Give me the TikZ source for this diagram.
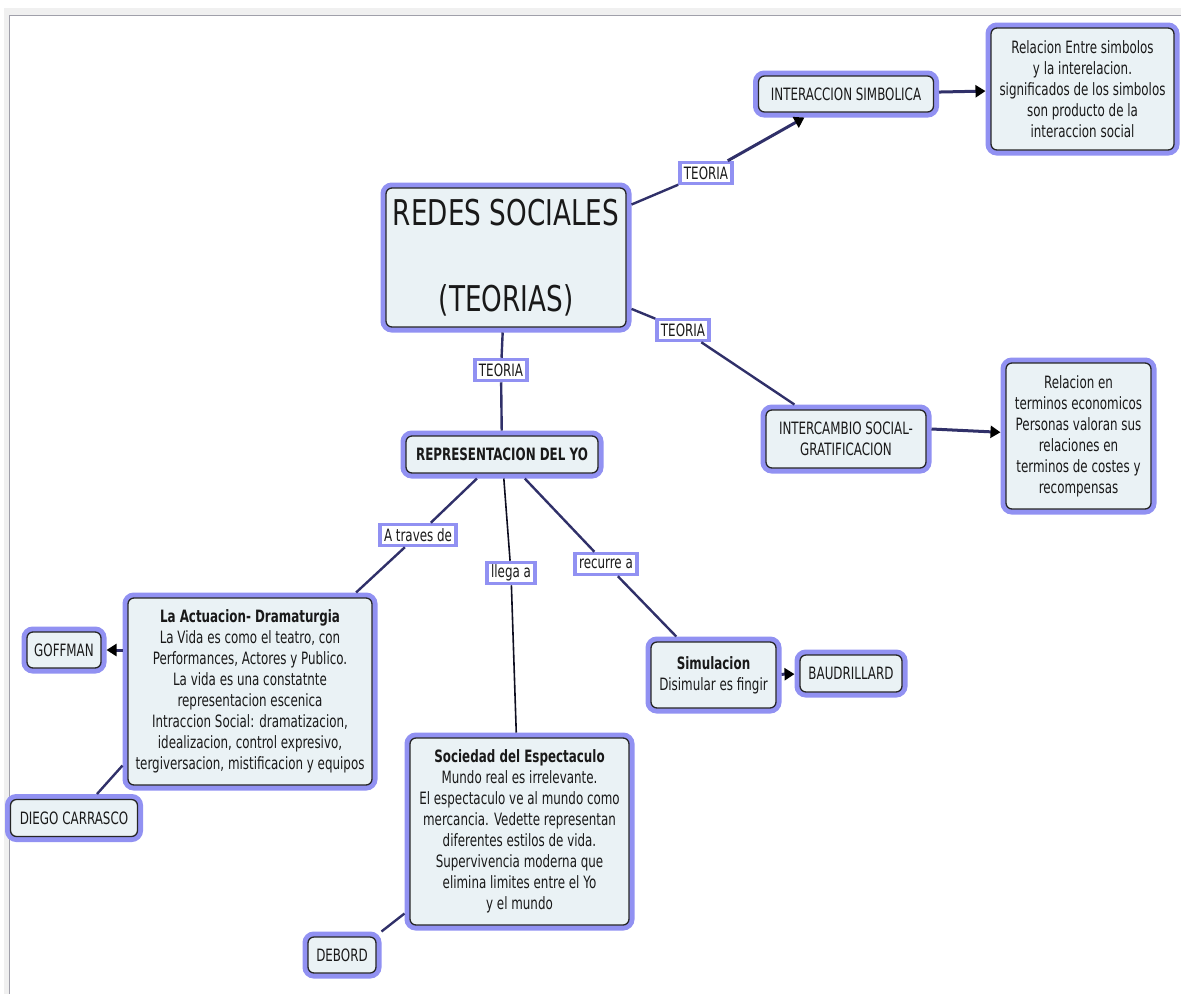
\documentclass[tikz,border=0pt]{standalone}
\usepackage{fontspec}
\setmainfont{DejaVu Sans}[FakeStretch=0.70]
\newfontfamily\titlefont{DejaVu Sans}[FakeStretch=0.74]
\usepackage{tikz}
\usetikzlibrary{arrows.meta}
\definecolor{halo}{RGB}{145,145,242}
\definecolor{boxfill}{RGB}{234,242,245}
\definecolor{linkcol}{RGB}{48,48,105}
\definecolor{framegray}{RGB}{240,240,240}
\definecolor{frameline}{RGB}{160,160,170}

\begin{document}
\begin{tikzpicture}[x=1pt,y=-1pt,
    concept/.style={rectangle,rounded corners=6pt,draw=black!85,line width=1.3pt,fill=boxfill,
      preaction={draw=halo,line width=11pt},inner sep=0pt,outer sep=5.5pt,align=center,
      font=\fontsize{17}{21}\selectfont,text=black!90},
    linkname/.style={rectangle,draw=halo,line width=3.5pt,fill=white,inner xsep=4pt,inner ysep=0pt,
      minimum height=21pt,font=\fontsize{17}{21}\selectfont,text=black!90},
    link/.style={draw=linkcol,line width=2.4pt},
    arr/.style={link,line width=3pt,-{Triangle[length=10pt,width=12pt,color=black]}}]
    \useasboundingbox (0,0) rectangle (1181,994);
    %
    \fill[framegray] (4,8) rectangle (1181,15);
    \fill[framegray] (4,8) rectangle (9,994);
    \draw[frameline,line width=1.5pt] (9.5,994) -- (9.5,15.5) -- (1181,15.5);
    %
    \node[concept,minimum width=240pt,minimum height=139pt,font=\titlefont\fontsize{35.5}{42.75}\selectfont] (redes) at (506,257.5) {REDES SOCIALES\\[42.75pt](TEORIAS)};
    \node[concept,minimum width=175pt,minimum height=36pt] (intsim) at (846,94) {INTERACCION SIMBOLICA};
    \node[concept,minimum width=183pt,minimum height=122pt] (relsim) at (1082.5,89) {Relacion Entre simbolos\\y la interelacion.\\significados de los simbolos\\son producto de la\\interaccion social};
    \node[concept,minimum width=160pt,minimum height=58pt] (intercambio) at (846,439) {INTERCAMBIO SOCIAL-\\GRATIFICACION};
    \node[concept,minimum width=145pt,minimum height=146pt] (releco) at (1078.5,436) {Relacion en\\terminos economicos\\Personas valoran sus\\relaciones en\\terminos de costes y\\recompensas};
    \node[concept,font=\bfseries\fontsize{17}{21}\selectfont,minimum width=192pt,minimum height=37pt] (repr) at (502,454.5) {REPRESENTACION DEL YO};

    \node[concept,minimum width=244pt,minimum height=187pt] (actuacion) at (250,691.5) {\textbf{La Actuacion- Dramaturgia}\\La Vida es como el teatro, con\\Performances, Actores y Publico.\\La vida es una constatnte\\representacion escenica\\Intraccion Social: dramatizacion,\\idealizacion, control expresivo,\\tergiversacion, mistificacion y equipos};
    \node[concept,minimum width=74pt,minimum height=36pt] (goffman) at (64,650) {GOFFMAN};
    \node[concept,minimum width=127pt,minimum height=37pt] (diego) at (74,818) {DIEGO CARRASCO};
    \node[concept,minimum width=219pt,minimum height=187pt] (sociedad) at (519.5,831.5) {\textbf{Sociedad del Espectaculo}\\Mundo real es irrelevante.\\El espectaculo ve al mundo como\\mercancia. Vedette representan\\diferentes estilos de vida.\\Supervivencia moderna que\\elimina limites entre el Yo\\y el mundo};
    \node[concept,minimum width=68pt,minimum height=36pt] (debord) at (342,955) {DEBORD};
    \node[concept,minimum width=125pt,minimum height=66pt] (simul) at (713.5,675) {\textbf{Simulacion}\\Disimular es fingir};
    \node[concept,minimum width=102pt,minimum height=37pt] (baud) at (851,673.5) {BAUDRILLARD};
    %
    \node[linkname] (teoriaA) at (706,173) {TEORIA};
    \node[linkname] (teoriaB) at (683,330) {TEORIA};
    \node[linkname] (teoriaC) at (501,370) {TEORIA};
    \node[linkname] (atraves) at (418,535) {A traves de};
    \node[linkname] (llega) at (511,573) {llega a};
    \node[linkname] (recurre) at (606,564) {recurre a};
    %
    \draw[link] (redes) -- (teoriaA);
    \draw[arr] (teoriaA) -- (intsim);
    \draw[arr] (intsim) -- (relsim);
    \draw[link] (redes) -- (teoriaB);
    \draw[link] (teoriaB) -- (intercambio);
    \draw[arr] ([yshift=10pt]intercambio.east) -- (releco);
    \draw[link] (redes) -- (teoriaC);
    \draw[link] (teoriaC) -- (repr);
    \draw[link] (repr) -- (atraves);
    \draw[link] (atraves) -- (actuacion);
    \draw[link,line width=1.6pt,draw=black!70!linkcol] (repr) -- (llega);
    \draw[link,line width=1.6pt,draw=black!70!linkcol] (llega) -- (sociedad);
    \draw[link] (repr) -- (recurre);
    \draw[link] (recurre) -- (simul);
    \draw[arr] (simul) -- (baud);
    \draw[arr] (actuacion.west |- goffman) -- (goffman);
    \draw[link] ([xshift=23pt]diego.north) -- ([yshift=25pt]actuacion.south west);
    \draw[link] (debord.north east) -- ([yshift=17pt]sociedad.south west);
    %
\end{tikzpicture}
\end{document}
